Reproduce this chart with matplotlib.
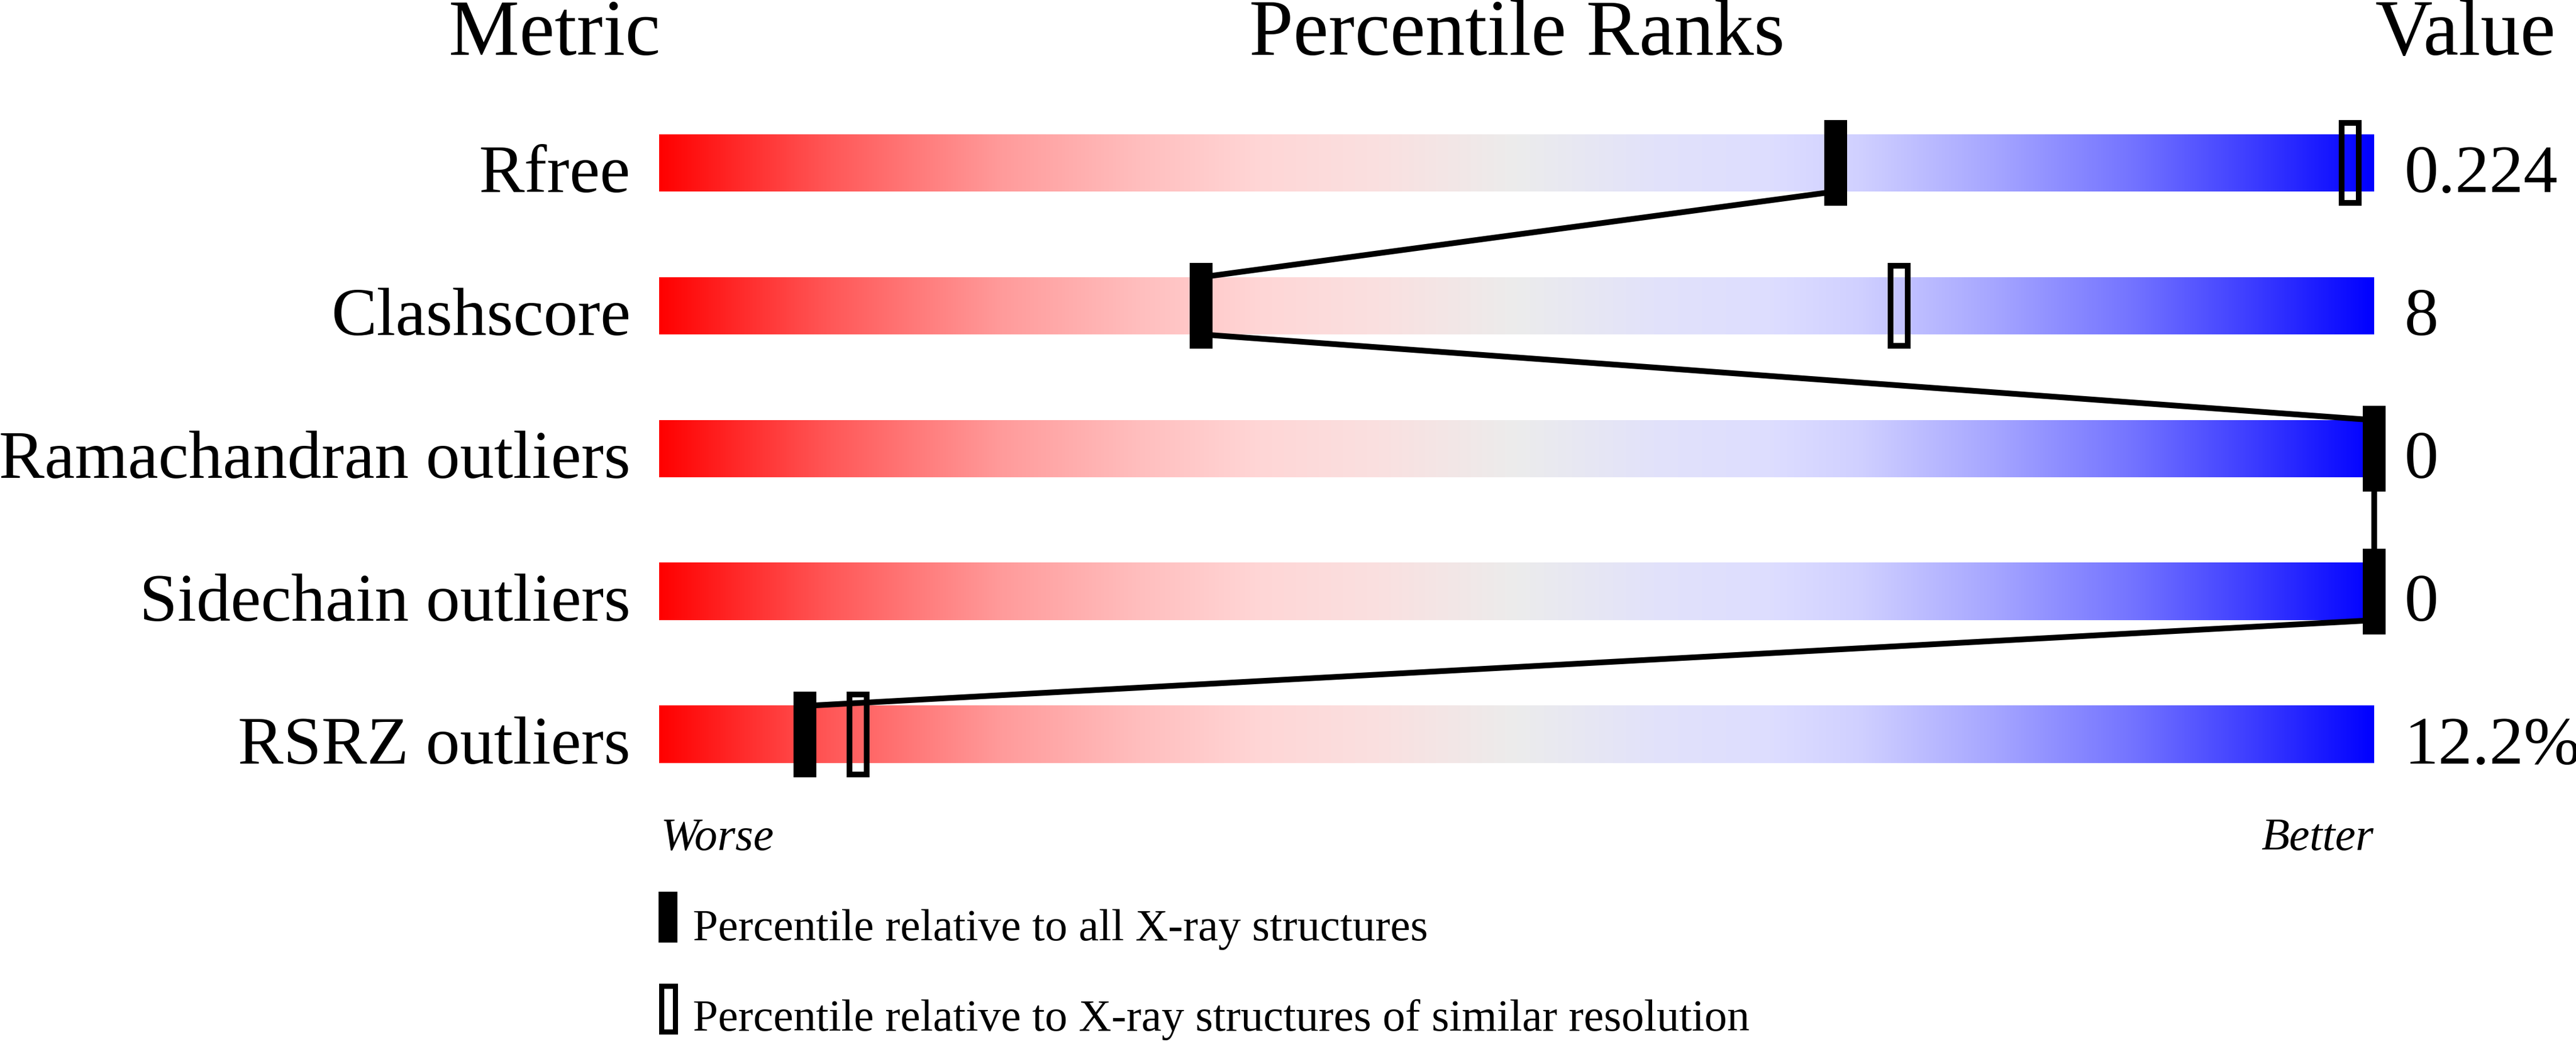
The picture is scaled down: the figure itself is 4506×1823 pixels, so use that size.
import numpy as np
import matplotlib
matplotlib.use("Agg")
import matplotlib.pyplot as plt
from matplotlib.patches import Rectangle
from matplotlib.colors import LinearSegmentedColormap

# ---- data ----
metrics = ["Rfree", "Clashscore", "Ramachandran outliers", "Sidechain outliers", "RSRZ outliers"]
values = ["0.224", "8", "0", "0", "12.2%"]
pct_all = [68.6, 31.6, 100.0, 100.0, 8.5]        # percentile relative to all X-ray structures
pct_similar = [98.6, 72.3, 100.0, 100.0, 11.6]   # percentile relative to similar resolution
header_labels = ["Metric", "Percentile Ranks", "Value"]
scale_labels = ["Worse", "Better"]
legend_labels = ["Percentile relative to all X-ray structures",
                 "Percentile relative to X-ray structures of similar resolution"]

# gradient stops (position, rgb)
grad_pos = [0.00, 0.05, 0.10, 0.15, 0.20, 0.28, 0.35, 0.42, 0.50, 0.58, 0.65, 0.70, 0.78, 0.86, 0.93, 1.00]
grad_rgb = [(255, 0, 0), (255, 45, 45), (255, 88, 88), (255, 122, 122), (255, 155, 155),
            (255, 190, 190), (255, 214, 214), (250, 224, 224), (236, 236, 236), (226, 226, 250),
            (221, 221, 255), (208, 208, 255), (165, 165, 255), (115, 115, 255), (60, 60, 255), (0, 0, 255)]

FONT = "Liberation Serif"
W, H = 4506, 1824
fig = plt.figure(figsize=(W / 100, H / 100), dpi=100)
fig.patch.set_facecolor("white")

# bar axes: x = percentile (0..100), y = row index
bar_left_px, bar_w_px = 1153, 3000
top_px, row_px = 161, 250
n = len(metrics)
ax = fig.add_axes([bar_left_px / W, 1 - (top_px + row_px * n) / H, bar_w_px / W, row_px * n / H])
ax.set_xlim(0, 100)
ax.set_ylim(n - 0.5, -0.5)
ax.axis("off")

px_x = 100 / bar_w_px   # data units per pixel (x)
px_y = 1 / row_px       # data units per pixel (y)

cmap = LinearSegmentedColormap.from_list(
    "slider", [(p, tuple(c / 255 for c in rgb)) for p, rgb in zip(grad_pos, grad_rgb)], N=1024)
grad = np.linspace(0, 1, 1024)[None, :]

bar_h = 100 * px_y
mk_h = 150 * px_y
mk_w = 40 * px_x
lw = 10 * 0.72

for i in range(n):
    ax.imshow(grad, cmap=cmap, extent=(0, 100, i + bar_h / 2, i - bar_h / 2),
              aspect="auto", interpolation="bilinear", zorder=1)

# connecting lines between black markers
for i in range(n - 1):
    ax.plot([pct_all[i], pct_all[i + 1]], [i + bar_h / 2, i + 1 - bar_h / 2],
            color="black", lw=lw, solid_capstyle="butt", zorder=2, clip_on=False)

# open markers (similar resolution)
for i in range(n):
    ax.add_patch(Rectangle((pct_similar[i] - (mk_w - 10 * px_x) / 2, i - (mk_h - 10 * px_y) / 2),
                           mk_w - 10 * px_x, mk_h - 10 * px_y, facecolor="none",
                           edgecolor="black", lw=lw, zorder=3, clip_on=False))
# filled markers (all structures)
for i in range(n):
    ax.add_patch(Rectangle((pct_all[i] - mk_w / 2, i - mk_h / 2), mk_w, mk_h,
                           facecolor="black", edgecolor="none", zorder=4, clip_on=False))

def dx(px):
    return (px - bar_left_px) * px_x

def dy(py):
    return (py - top_px) * px_y - 0.5

# metric labels and values
for i in range(n):
    ax.text(dx(1103), i + bar_h / 2, metrics[i], ha="right", va="baseline",
            fontsize=86, family=FONT, clip_on=False)
    ax.text(dx(4205), i + bar_h / 2, values[i], ha="left", va="baseline",
            fontsize=86, family=FONT, clip_on=False)

# headers
ax.text(dx(970), dy(96), header_labels[0], ha="center", va="baseline", fontsize=100, family=FONT)
ax.text(50, dy(96), header_labels[1], ha="center", va="baseline", fontsize=100, family=FONT)
ax.text(dx(4155), dy(96), header_labels[2], ha="left", va="baseline", fontsize=100, family=FONT)

# worse / better
ax.text(dx(1156), dy(1487), scale_labels[0], ha="left", va="baseline", fontsize=58,
        family=FONT, style="italic")
ax.text(dx(4152), dy(1487), scale_labels[1], ha="right", va="baseline", fontsize=58,
        family=FONT, style="italic")

# legend
ax.add_patch(Rectangle((dx(1152), dy(1561)), 33 * px_x, 89 * px_y, facecolor="black",
                       edgecolor="none", clip_on=False))
ax.add_patch(Rectangle((dx(1156.5), dy(1725.5)), 24 * px_x, 80 * px_y, facecolor="none",
                       edgecolor="black", lw=9 * 0.72, clip_on=False))
ax.text(dx(1212), dy(1645), legend_labels[0], ha="left", va="baseline", fontsize=57, family=FONT)
ax.text(dx(1212), dy(1803), legend_labels[1], ha="left", va="baseline", fontsize=57, family=FONT)

fig.savefig("out.png", dpi=100, facecolor="white")
